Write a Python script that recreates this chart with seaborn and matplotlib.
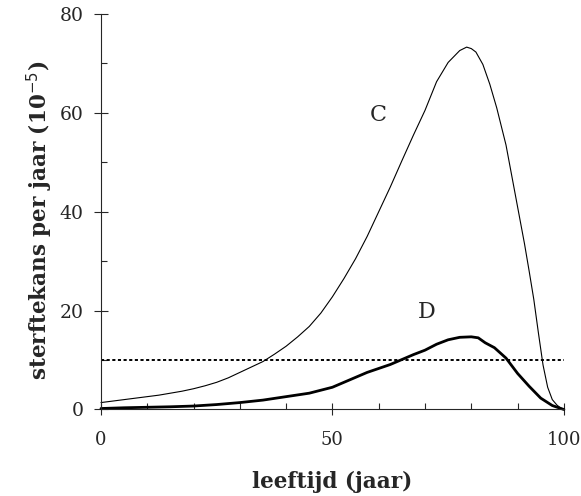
import pandas as pd
import seaborn as sns
import matplotlib.pyplot as plt
from matplotlib.ticker import MultipleLocator, FixedLocator

# leeftijd (jaar) en sterftekans per jaar (10^-5)
leeftijd_c = [0, 2.5, 5, 7.5, 10, 12.5, 15, 17.5, 20, 22.5, 25, 27.5, 30, 32.5, 35, 37.5,
              40, 42.5, 45, 47.5, 50, 52.5, 55, 57.5, 60, 62.5, 65, 67.5, 70, 72.5, 75,
              77.5, 79, 80, 81, 82.5, 84, 85.5, 87.5, 90, 91.5, 92.5, 93.5, 94.5, 95.5,
              96.5, 97.5, 98.5, 99.3, 100]
kans_c = [1.4, 1.7, 2.0, 2.3, 2.6, 2.9, 3.3, 3.7, 4.2, 4.8, 5.5, 6.4, 7.5, 8.6, 9.7, 11.2,
          12.8, 14.7, 16.8, 19.5, 22.8, 26.5, 30.5, 35.0, 40.0, 45.0, 50.3, 55.5, 60.5,
          66.3, 70.2, 72.6, 73.3, 73.0, 72.3, 69.8, 65.8, 61.0, 53.5, 41.0, 33.5, 28.0,
          22.3, 15.5, 9.0, 4.5, 2.0, 0.9, 0.3, 0.0]

leeftijd_d = [0, 5, 10, 15, 20, 25, 30, 35, 40, 45, 50, 52.5, 55, 57.5, 60, 62.5, 65, 67.5,
              70, 72.5, 75, 77.5, 80, 81.5, 83, 85, 87.5, 90, 92.5, 95, 97.5, 100]
kans_d = [0.2, 0.35, 0.45, 0.55, 0.7, 1.0, 1.4, 1.9, 2.6, 3.3, 4.5, 5.5, 6.5, 7.5, 8.3,
          9.1, 10.1, 11.1, 12.0, 13.2, 14.1, 14.6, 14.7, 14.5, 13.5, 12.5, 10.4, 7.3,
          4.7, 2.3, 0.8, 0.0]

grens = 10
grens_x = [0, 100]

df_c = pd.DataFrame({'leeftijd': leeftijd_c, 'kans': kans_c})
df_d = pd.DataFrame({'leeftijd': leeftijd_d, 'kans': kans_d})

sns.set_style('ticks')
plt.rcParams['font.family'] = ['DejaVu Serif']

fig = plt.figure(figsize=(5.81, 4.96), dpi=100)
ax = fig.add_axes([0.1738, 0.1744, 0.9705 - 0.1738, 0.9718 - 0.1744])

sns.lineplot(data=df_c, x='leeftijd', y='kans', color='black', linewidth=0.8, ax=ax, clip_on=False)
sns.lineplot(data=df_d, x='leeftijd', y='kans', color='black', linewidth=2.0, ax=ax, clip_on=False)
ax.plot(grens_x, [grens, grens], color='black', linewidth=1.4, dashes=(1.6, 1.3), clip_on=False)

ax.text(60, 59.5, 'C', fontsize=16, ha='center', va='center')
ax.text(70.3, 19.8, 'D', fontsize=16, ha='center', va='center')

ax.set_xlim(0, 100)
ax.set_ylim(0, 80)
sns.despine(ax=ax)
ax.spines['left'].set_linewidth(0.8)
ax.spines['bottom'].set_linewidth(0.8)

ax.xaxis.set_major_locator(FixedLocator([0, 50, 100]))
ax.xaxis.set_minor_locator(FixedLocator([10, 20, 30, 40, 60, 70, 80, 90]))
ax.yaxis.set_major_locator(MultipleLocator(20))
ax.yaxis.set_minor_locator(FixedLocator([10, 30, 50, 70]))

ax.tick_params(axis='x', which='major', direction='inout', length=8.6, width=0.8,
               pad=11, labelsize=13)
ax.tick_params(axis='y', which='major', direction='inout', length=9.4, width=0.8,
               pad=8, labelsize=13.5)
ax.tick_params(which='minor', direction='in', length=4.3, width=0.8)

ax.set_xlabel('leeftijd (jaar)', fontsize=15.5, fontweight='bold', labelpad=16)
ax.set_ylabel('sterftekans per jaar (10$^{-5}$)', fontsize=15.5, fontweight='bold')
ax.yaxis.set_label_coords(-0.099, 0.477)

fig.savefig('out.png', dpi=100)
